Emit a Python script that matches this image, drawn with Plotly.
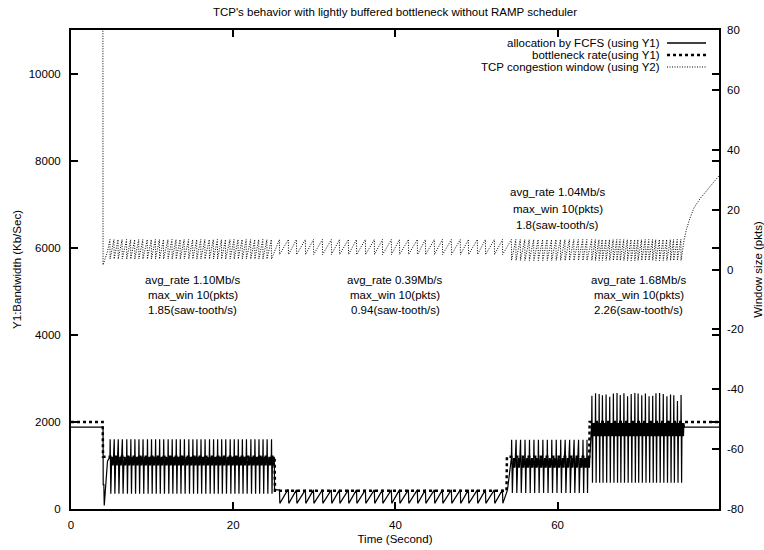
import plotly.graph_objects as go

# ---------------- data ----------------
# times (s) of the saw-teeth / rate spikes in each phase
teeth_phase1 = [4.8, 5.3, 5.8, 6.3, 6.85, 7.35, 7.85, 8.35, 8.85, 9.4,
                9.9, 10.4, 10.9, 11.4, 11.95, 12.45, 12.95, 13.45, 13.95, 14.5,
                15.0, 15.5, 16.0, 16.5, 17.05, 17.55, 18.05, 18.55, 19.05, 19.6,
                20.1, 20.6, 21.1, 21.6, 22.15, 22.65, 23.15, 23.65, 24.15, 24.7]
teeth_phase2 = [25.7, 26.8, 27.8, 28.9, 29.9, 31.0, 32.1, 33.1, 34.2, 35.2,
                36.3, 37.4, 38.4, 39.5, 40.5, 41.6, 42.7, 43.7, 44.8, 45.8,
                46.9, 48.0, 49.0, 50.1, 51.1, 52.2, 53.2]
teeth_phase3 = [54.3, 54.85, 55.4, 55.95, 56.5, 57.05, 57.6, 58.15, 58.7, 59.25,
                59.8, 60.35, 60.9, 61.45, 62.0, 62.55, 63.1, 63.6]
teeth_phase4 = [64.2, 64.65, 65.1, 65.5, 65.95, 66.4, 66.85, 67.3, 67.7, 68.15,
                68.6, 69.05, 69.5, 69.9, 70.35, 70.8, 71.25, 71.7, 72.1, 72.55,
                73.0, 73.45, 73.9, 74.3, 74.75, 75.2]
phase_end = [25.1, 53.9, 64.0, 75.6]

# allocation by FCFS (Kb/s)
fcfs_start_t = [0.0, 3.95, 3.97, 4.05, 4.1, 4.5]
fcfs_start_v = [1880, 1880, 560, 560, 80, 1100]
fcfs_p1 = {"hi": 1600, "lo": 350, "band_lo": 1000, "band_hi": 1200}
fcfs_p2 = {"lo": 130, "hi": 440}
fcfs_p3 = {"hi": 1590, "lo": 370, "band_lo": 950, "band_hi": 1170}
fcfs_p4_hi = [2600, 2660, 2640, 2610, 2630, 2580, 2650, 2665, 2620, 2660,
              2590, 2640, 2665, 2655, 2610, 2650, 2590, 2600, 2660, 2665,
              2640, 2590, 2630, 2610, 2480, 2620]
fcfs_p4 = {"lo": 600, "band_lo": 1670, "band_hi": 1975}
fcfs_end_t = [75.65, 79.9]
fcfs_end_v = [1880, 1880]

# bottleneck rate (Kb/s)
bneck_t = [0.0, 3.9, 3.95, 25.1, 25.15, 53.7, 53.75, 63.9, 63.95, 79.9]
bneck_v = [2000, 2000, 1200, 1200, 420, 420, 1200, 1200, 2000, 2000]

# TCP congestion window (pkts)
cwnd_start_t = [0.0, 3.93, 3.95, 4.5]
cwnd_start_v = [100, 100, 1.5, 6]
cwnd_low = [3.5, 5.0, 3.0, 3.0]
cwnd_high = [10, 10, 10, 10]
cwnd_tail_t = [75.6, 75.9, 76.3, 76.8, 77.6, 78.4, 79.2, 79.9]
cwnd_tail_v = [10, 13.5, 17, 20.5, 23.8, 26.5, 28.9, 31.3]

# text
title_text = "TCP's behavior with lightly buffered bottleneck without RAMP scheduler"
legend_names = ["allocation by FCFS (using Y1)", "bottleneck rate(using Y1)",
                "TCP congestion window (using Y2)"]
notes_low = [(15.0, ["avg_rate 1.10Mb/s", "max_win 10(pkts)", "1.85(saw-tooth/s)"]),
             (40.0, ["avg_rate 0.39Mb/s", "max_win 10(pkts)", "0.94(saw-tooth/s)"]),
             (70.0, ["avg_rate 1.68Mb/s", "max_win 10(pkts)", "2.26(saw-tooth/s)"])]
notes_low_y = [5270, 4925, 4580]
notes_high = [(60.0, ["avg_rate 1.04Mb/s", "max_win 10(pkts)", "1.8(saw-tooth/s)"])]
notes_high_y = [7270, 6900, 6530]
x_ticks = [0, 20, 40, 60]
y1_ticks = [0, 2000, 4000, 6000, 8000, 10000]
y2_ticks = [-80, -60, -40, -20, 0, 20, 40, 60, 80]
y2_ticktext = ["-80", "-60", "-40", "-20", "0", "20", "40", "60", "80"]


# ---------------- series assembly ----------------
def spiky(teeth, end, his, lo, band_lo, band_hi):
    xs, ys = [], []
    frac = [0.0, 0.06, 0.22, 0.32, 0.44, 0.56, 0.68, 0.80, 0.92]
    for i, t in enumerate(teeth):
        nxt = teeth[i + 1] if i + 1 < len(teeth) else end
        p = min(nxt - t, 0.6)
        vals = [band_hi, his[i], lo, band_lo, band_hi, band_lo, band_hi, band_lo, band_hi]
        for f, v in zip(frac, vals):
            xs.append(t + f * p)
            ys.append(v)
    return xs, ys


def saw(teeth, end, lo, hi):
    xs, ys = [], []
    for i, t in enumerate(teeth):
        nxt = teeth[i + 1] if i + 1 < len(teeth) else end
        xs += [t, t + 0.05, nxt - 0.08]
        ys += [hi, lo, hi]
    return xs, ys


fx, fy = list(fcfs_start_t), list(fcfs_start_v)
x1, y1 = spiky(teeth_phase1, phase_end[0], [fcfs_p1["hi"]] * len(teeth_phase1),
               fcfs_p1["lo"], fcfs_p1["band_lo"], fcfs_p1["band_hi"])
fx += x1; fy += y1
x2, y2 = saw(teeth_phase2, phase_end[1], fcfs_p2["lo"], fcfs_p2["hi"])
fx += [phase_end[0]] + x2; fy += [fcfs_p2["hi"]] + y2
x3, y3 = spiky(teeth_phase3, phase_end[2], [fcfs_p3["hi"]] * len(teeth_phase3),
               fcfs_p3["lo"], fcfs_p3["band_lo"], fcfs_p3["band_hi"])
fx += x3; fy += y3
x4, y4 = spiky(teeth_phase4, phase_end[3], fcfs_p4_hi,
               fcfs_p4["lo"], fcfs_p4["band_lo"], fcfs_p4["band_hi"])
fx += x4; fy += y4
fx += fcfs_end_t; fy += fcfs_end_v

cx, cy = list(cwnd_start_t), list(cwnd_start_v)
for k, teeth in enumerate([teeth_phase1, teeth_phase2, teeth_phase3, teeth_phase4]):
    for t in teeth:
        cx += [t, t + 0.02]
        cy += [cwnd_high[k], cwnd_low[k]]
cx += cwnd_tail_t; cy += cwnd_tail_v

FONT = "Liberation Sans, Arial, Helvetica, sans-serif"
FS = 11.5

fig = go.Figure()
fig.add_trace(go.Scatter(x=fx, y=fy, mode="lines", name=legend_names[0],
                         line=dict(color="black", width=1.2), showlegend=False))
fig.add_trace(go.Scatter(x=bneck_t, y=bneck_v, mode="lines", name=legend_names[1],
                         line=dict(color="black", width=2.5, dash="3px,3px"),
                         showlegend=False))
fig.add_trace(go.Scatter(x=cx, y=cy, mode="lines", name=legend_names[2], yaxis="y2",
                         line=dict(color="black", width=1, dash="1px,1.5px"),
                         showlegend=False))

# plot-area geometry (pixels) for paper-coordinate placement of the key
L, R, T, B = 71, 719, 30, 509
def px(xp):
    return (xp - L) / (R - L)
def py(yp):
    return (B - yp) / (B - T)

annotations = []
for name, yy in zip(legend_names, [43, 55, 67]):
    annotations.append(dict(x=px(662), y=py(yy), xref="paper", yref="paper",
                            text=name, showarrow=False, xanchor="right",
                            yanchor="middle", font=dict(size=FS)))
for xc, lines in notes_low:
    for txt, yv in zip(lines, notes_low_y):
        annotations.append(dict(x=xc, y=yv, xref="x", yref="y", text=txt,
                                showarrow=False, font=dict(size=FS)))
for xc, lines in notes_high:
    for txt, yv in zip(lines, notes_high_y):
        annotations.append(dict(x=xc, y=yv, xref="x", yref="y", text=txt,
                                showarrow=False, font=dict(size=FS)))

shapes = [
    dict(type="line", xref="paper", yref="paper", x0=px(667), x1=px(706),
         y0=py(43), y1=py(43), line=dict(color="black", width=1.4)),
    dict(type="line", xref="paper", yref="paper", x0=px(667), x1=px(706),
         y0=py(55), y1=py(55), line=dict(color="black", width=2.5, dash="3px,3px")),
    dict(type="line", xref="paper", yref="paper", x0=px(667), x1=px(706),
         y0=py(67), y1=py(67), line=dict(color="black", width=1, dash="1px,1.5px")),
]

axis_common = dict(showgrid=False, zeroline=False, ticks="inside", ticklen=7,
                   tickwidth=1.5, tickcolor="black", automargin=False,
                   tickfont=dict(size=FS, color="black"))

fig.update_layout(
    width=764, height=550,
    margin=dict(l=L, r=764 - R, t=T, b=550 - B),
    paper_bgcolor="white", plot_bgcolor="white",
    font=dict(family=FONT, size=FS, color="black"),
    title=dict(text=title_text, x=0.5, xref="paper", y=1 - 12 / 550,
               yref="container", yanchor="middle", xanchor="center",
               font=dict(size=FS)),
    xaxis=dict(range=[0, 79.9], tickvals=x_ticks, showline=True, linewidth=2,
               linecolor="black", mirror="ticks", ticklabelstandoff=4,
               title=dict(text="Time (Second)", standoff=5, font=dict(size=FS)),
               **axis_common),
    yaxis=dict(range=[0, 11000], tickvals=y1_ticks, tickformat="d", showline=True,
               linewidth=2, linecolor="black", mirror="ticks", ticklabelstandoff=6,
               title=dict(text="Y1:Bandwidth (Kb/Sec)", standoff=5, font=dict(size=FS)),
               **axis_common),
    yaxis2=dict(range=[-80, 80], tickvals=y2_ticks, ticktext=y2_ticktext,
                overlaying="y", side="right", showline=False, ticklabelstandoff=7,
                title=dict(text="Window size (pkts)", standoff=20, font=dict(size=FS)),
                **axis_common),
    annotations=annotations,
    shapes=shapes,
    showlegend=False,
)

fig.write_html("out.html")
